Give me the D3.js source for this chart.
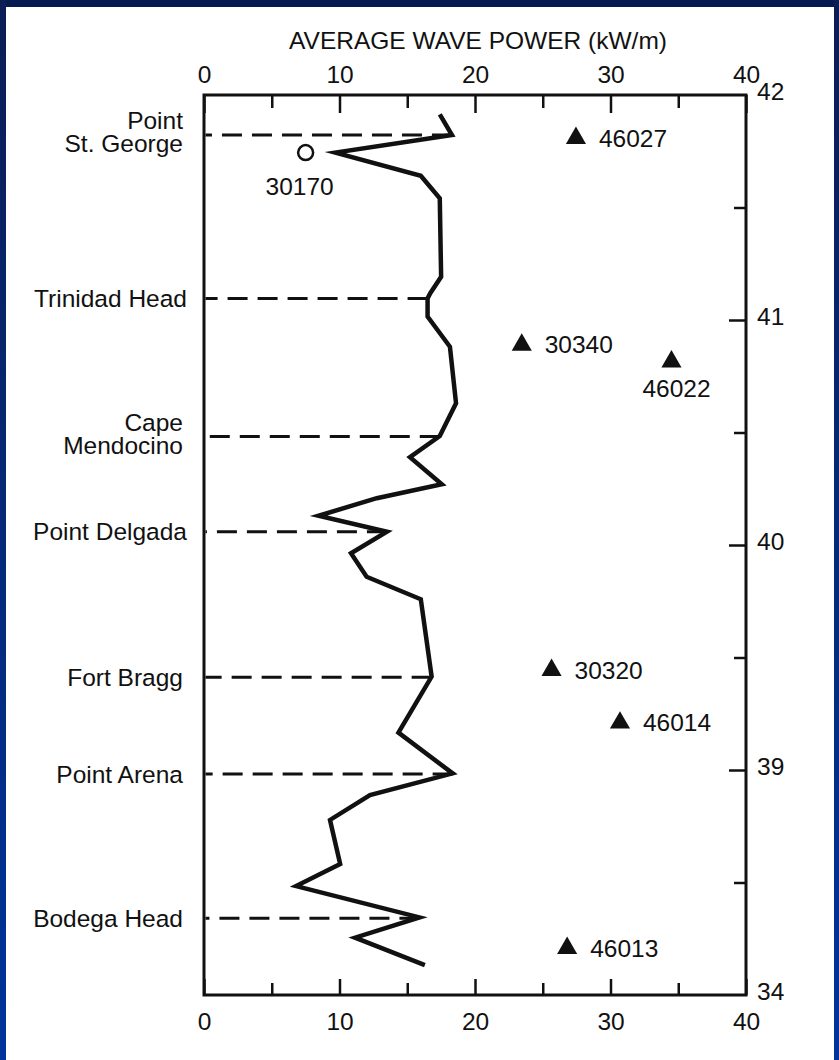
<!DOCTYPE html>
<html>
<head>
<meta charset="utf-8">
<script src="https://cdn.jsdelivr.net/npm/d3@7"></script>
<style>
  html, body { margin: 0; padding: 0; background: #ffffff; }
  svg { display: block; }
  text { font-family: "Liberation Sans", Arial, Helvetica, sans-serif; fill: #111; }
</style>
</head>
<body>
<svg id="chart" width="839" height="1060"></svg>
<script>
// Coastal wave-power profile (latitude vs. average power)
const profileLat = [41.914, 41.822, 41.744, 41.641, 41.541, 41.192, 41.119, 41.096, 41.015,
  40.881, 40.630, 40.484, 40.390, 40.270, 40.208, 40.130, 40.059, 39.963, 39.859, 39.759,
  39.415, 39.166, 38.985, 38.889, 38.778, 38.582, 38.484, 38.345, 38.255, 38.133];
const profilePower = [17.4, 18.3, 9.7, 16.0, 17.4, 17.5, 16.7, 16.5, 16.5,
  18.15, 18.6, 17.4, 15.2, 17.55, 12.75, 8.45, 13.5, 10.85, 12.0, 16.0,
  16.8, 14.35, 18.35, 12.25, 9.3, 10.05, 6.8, 15.9, 11.15, 16.3];

// Coastal landmarks: name lines, latitude, power where the reference line meets the profile
const placeNames = [["Point", "St. George"], ["Trinidad Head"], ["Cape", "Mendocino"],
  ["Point Delgada"], ["Fort Bragg"], ["Point Arena"], ["Bodega Head"]];
const placeLat = [41.822, 41.096, 40.482, 40.059, 39.412, 38.982, 38.341];
const placePower = [18.3, 16.5, 17.4, 13.5, 16.8, 18.35, 15.9];

// Buoy / station measurements
const stationIds = ["30170", "46027", "30340", "46022", "30320", "46014", "46013"];
const stationPower = [7.5, 27.45, 23.45, 34.5, 25.65, 30.7, 26.8];
const stationLat = [41.744, 41.808, 40.889, 40.815, 39.444, 39.21, 38.208];
const stationKind = ["circle", "triangle", "triangle", "triangle", "triangle", "triangle", "triangle"];

// Axis ticks
const powerTicks = [0, 10, 20, 30, 40];
const powerMinorTicks = [5, 15, 25, 35];
const latTicks = [42, 41, 40, 39, 38];
const latTickLabels = ["42", "41", "40", "39", "34"];
const latMinorTicks = [41.5, 40.5, 39.5, 38.5];

// ---- layout ----
const W = 839, H = 1060;
const plot = { left: 204, right: 746, top: 95, bottom: 995 };
const FONT = 24.5;

// station label placement relative to its marker
const labelLayout = {
  "30170": { anchor: "middle", dx: -6, dy: 42 },
  "46022": { anchor: "middle", dx: 5, dy: 35 },
  default: { anchor: "start", dx: 23, dy: 8.5 }
};

const svg = d3.select("#chart");

// slide frame
const defs = svg.append("defs");
const grad = defs.append("linearGradient").attr("id", "edge").attr("x1", 0).attr("y1", 0).attr("x2", 0).attr("y2", 1);
grad.append("stop").attr("offset", "0%").attr("stop-color", "#0b1d55");
grad.append("stop").attr("offset", "100%").attr("stop-color", "#00349b");
svg.append("rect").attr("x", 0).attr("y", 0).attr("width", W).attr("height", 7).attr("fill", "#041a50");
svg.append("rect").attr("x", 0).attr("y", 0).attr("width", 6).attr("height", H).attr("fill", "url(#edge)");
svg.append("rect").attr("x", W - 5).attr("y", 0).attr("width", 5).attr("height", H).attr("fill", "url(#edge)");

const x = d3.scaleLinear().domain([0, 40]).range([plot.left, plot.right]);
const y = d3.scaleLinear().domain([38, 42]).range([plot.bottom, plot.top]);

// title
svg.append("text")
  .attr("x", (plot.left + plot.right) / 2 + 3)
  .attr("y", 49)
  .attr("text-anchor", "middle")
  .style("font-size", FONT + "px")
  .text("AVERAGE WAVE POWER (kW/m)");

function styleAxis(g) {
  g.select(".domain").remove();
  g.selectAll(".tick line").attr("stroke", "#111").attr("stroke-width", 2.5);
  g.selectAll(".tick text").style("font-size", FONT + "px").attr("fill", "#111")
    .style("font-family", "'Liberation Sans', Arial, sans-serif");
}

// top axis (ticks point into the plot)
svg.append("g").attr("transform", `translate(0,${plot.top})`)
  .call(d3.axisTop(x).tickValues(powerTicks).tickSize(-18).tickPadding(12))
  .call(styleAxis);
svg.append("g").attr("transform", `translate(0,${plot.top})`)
  .call(d3.axisTop(x).tickValues(powerMinorTicks).tickSize(-13).tickFormat(""))
  .call(styleAxis);

// bottom axis
svg.append("g").attr("transform", `translate(0,${plot.bottom})`)
  .call(d3.axisBottom(x).tickValues(powerTicks).tickSize(-16).tickPadding(18))
  .call(styleAxis);
svg.append("g").attr("transform", `translate(0,${plot.bottom})`)
  .call(d3.axisBottom(x).tickValues(powerMinorTicks).tickSize(-12).tickFormat(""))
  .call(styleAxis);

// right latitude axis
const rightAxis = svg.append("g").attr("transform", `translate(${plot.right},0)`)
  .call(d3.axisRight(y).tickValues(latTicks).tickSize(-17).tickPadding(11)
    .tickFormat((d, i) => latTickLabels[i]))
  .call(styleAxis);
rightAxis.selectAll(".tick text").attr("dy", "0.2em");
rightAxis.selectAll(".tick").filter(d => d === 42 || d === 38).select("line").remove();
svg.append("g").attr("transform", `translate(${plot.right},0)`)
  .call(d3.axisRight(y).tickValues(latMinorTicks).tickSize(-12).tickFormat(""))
  .call(styleAxis);

// plot frame
svg.append("rect")
  .attr("x", plot.left).attr("y", plot.top)
  .attr("width", plot.right - plot.left).attr("height", plot.bottom - plot.top)
  .attr("fill", "none").attr("stroke", "#111").attr("stroke-width", 3);

// landmark reference lines (dashed, from profile back to the axis)
const places = placeNames.map((n, i) => ({ name: n, lat: placeLat[i], power: placePower[i] }));
svg.append("g").selectAll("line").data(places).join("line")
  .attr("x1", d => x(d.power)).attr("x2", x(0) + 1.5)
  .attr("y1", d => y(d.lat)).attr("y2", d => y(d.lat))
  .attr("stroke", "#111").attr("stroke-width", 3)
  .attr("stroke-dasharray", "20,10");

// landmark names, right-aligned left of the plot
const nameG = svg.append("g");
places.forEach(p => {
  const yc = y(p.lat);
  const lines = p.name;
  const t = nameG.append("text")
    .attr("text-anchor", "end")
    .style("font-size", FONT + "px");
  lines.forEach((ln, k) => {
    const base = lines.length === 1 ? yc + 8.5 : yc - 6 + k * 23;
    t.append("tspan").attr("x", lines.length === 1 && ln.length > 11 ? 187 : 183).attr("y", base).text(ln);
  });
});

// power profile line
const profile = profileLat.map((lat, i) => ({ lat, power: profilePower[i] }));
svg.append("path")
  .datum(profile)
  .attr("fill", "none")
  .attr("stroke", "#111")
  .attr("stroke-width", 4.5)
  .attr("stroke-linejoin", "miter")
  .attr("stroke-miterlimit", 6)
  .attr("d", d3.line().x(d => x(d.power)).y(d => y(d.lat)));

// stations
const stations = stationIds.map((id, i) => ({
  id, power: stationPower[i], lat: stationLat[i], kind: stationKind[i]
}));
const st = svg.append("g").selectAll("g").data(stations).join("g")
  .attr("transform", d => `translate(${x(d.power)},${y(d.lat)})`);
st.filter(d => d.kind === "triangle").append("path")
  .attr("d", d3.symbol().type(d3.symbolTriangle).size(175))
  .attr("fill", "#111");
st.filter(d => d.kind === "circle").append("circle")
  .attr("r", 7.5).attr("fill", "#fff").attr("stroke", "#111").attr("stroke-width", 2.5);
st.append("text")
  .style("font-size", FONT + "px")
  .attr("text-anchor", d => (labelLayout[d.id] || labelLayout.default).anchor)
  .attr("x", d => (labelLayout[d.id] || labelLayout.default).dx)
  .attr("y", d => (labelLayout[d.id] || labelLayout.default).dy)
  .text(d => d.id);
</script>
</body>
</html>
